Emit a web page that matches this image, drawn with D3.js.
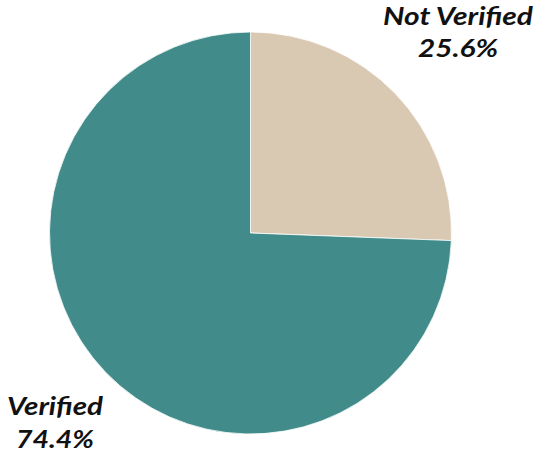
<!DOCTYPE html>
<html>
<head>
<meta charset="utf-8">
<script src="https://cdn.jsdelivr.net/npm/d3@7"></script>
<style>
  html, body { margin: 0; padding: 0; background: #fff; }
  svg { display: block; }
  text { font-family: Lato, "Open Sans", sans-serif; font-weight: 700; font-style: italic; fill: #111; }
</style>
</head>
<body>
<svg id="chart" width="541" height="454"></svg>
<script>
// Share of verified vs. not verified records
const categories = ["Not Verified", "Verified"];
const shares = [25.6, 74.4];
const colors = ["#d9c8b2", "#418c8a"];

const svg = d3.select("#chart");
const cx = 250.5, cy = 233, radius = 201;

const pie = d3.pie().sort(null).value(d => d)(shares);
const arc = d3.arc().innerRadius(0).outerRadius(radius);

const g = svg.append("g").attr("transform", `translate(${cx},${cy})`);
g.selectAll("path")
  .data(pie)
  .join("path")
  .attr("d", arc)
  .attr("fill", (d, i) => colors[i])
  .attr("stroke", "#fff")
  .attr("stroke-width", 0.8);

// Labels placed outside the pie, two lines each, with fixed widths
const labelPos = [
  { x: 458, y1: 25, y2: 57, w1: 150, w2: 80 },
  { x: 55, y1: 415, y2: 448, w1: 96, w2: 78 }
];
categories.forEach((c, i) => {
  const p = labelPos[i];
  const t = svg.append("text")
    .attr("text-anchor", "middle")
    .attr("font-size", 25);
  t.append("tspan").attr("x", p.x).attr("y", p.y1)
    .attr("textLength", p.w1).attr("lengthAdjust", "spacingAndGlyphs").text(c);
  t.append("tspan").attr("x", p.x).attr("y", p.y2)
    .attr("textLength", p.w2).attr("lengthAdjust", "spacingAndGlyphs").text(shares[i].toFixed(1) + "%");
});
</script>
</body>
</html>
